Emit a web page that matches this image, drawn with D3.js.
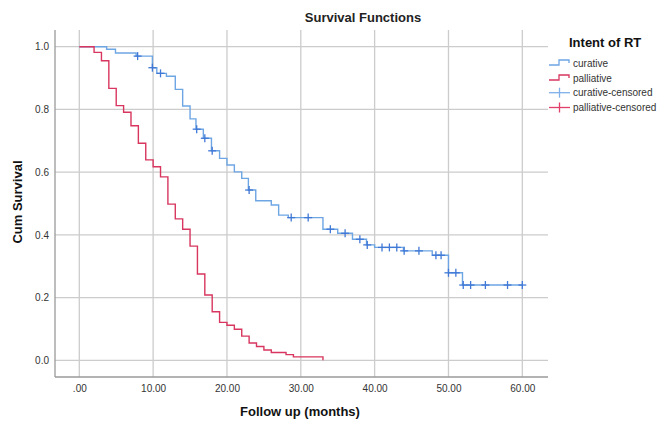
<!DOCTYPE html>
<html>
<head>
<meta charset="utf-8">
<script src="https://cdn.jsdelivr.net/npm/d3@7"></script>
<style>
  html, body { margin: 0; padding: 0; background: #fff; }
  svg { display: block; font-family: Arial, "Liberation Sans", sans-serif; }
</style>
</head>
<body>
<svg id="chart" width="666" height="421"></svg>
<script>
// ---- data ----
const xTicks = [0, 10, 20, 30, 40, 50, 60];
const xTickLabels = [".00", "10.00", "20.00", "30.00", "40.00", "50.00", "60.00"];
const yTicks = [0, 0.2, 0.4, 0.6, 0.8, 1.0];
const yTickLabels = ["0.0", "0.2", "0.4", "0.6", "0.8", "1.0"];

const curativeTimes = [0, 3.7, 4.9, 7.7, 9.9, 10.5, 11.8, 13.0, 14.0, 15.0, 15.8, 16.8, 17.9, 19.0, 20.0, 21.0, 22.0, 22.9, 23.9, 26.0, 27.0, 28.3, 33.0, 35.0, 37.0, 38.9, 40.0, 43.9, 47.8, 50.0, 51.9, 60.0];
const curativeSurv  = [1.0, 0.992, 0.980, 0.970, 0.933, 0.915, 0.906, 0.864, 0.811, 0.770, 0.737, 0.708, 0.668, 0.644, 0.623, 0.601, 0.580, 0.543, 0.509, 0.495, 0.463, 0.455, 0.418, 0.405, 0.386, 0.368, 0.360, 0.349, 0.335, 0.279, 0.240, 0.240];
const curativeCensored = [7.9, 9.9, 11.0, 15.9, 17.0, 18.0, 23.0, 28.7, 31.0, 34.0, 36.0, 38.0, 39.0, 41.0, 42.0, 43.0, 44.0, 46.0, 48.3, 49.0, 50.0, 51.0, 52.0, 53.0, 55.0, 58.0, 60.0];

const palliativeTimes = [0, 2, 3, 4, 5, 6, 7, 8, 9, 10, 11, 12, 13, 14, 15, 16, 17, 18, 19, 20, 21, 22, 23, 24, 25, 26, 28, 29, 33];
const palliativeSurv  = [1.0, 0.982, 0.955, 0.867, 0.812, 0.791, 0.748, 0.692, 0.639, 0.617, 0.585, 0.498, 0.451, 0.418, 0.364, 0.275, 0.208, 0.155, 0.121, 0.112, 0.099, 0.077, 0.055, 0.044, 0.033, 0.025, 0.018, 0.011, 0.0];
const palliativeCensored = [];

const legendLabels = ["curative", "palliative", "curative-censored", "palliative-censored"];

// ---- layout ----
const svg = d3.select("#chart");
const frame = { left: 55, right: 548, top: 30, bottom: 377 };
const x = d3.scaleLinear().domain([0, 60]).range([79.3, 522.3]);
const y = d3.scaleLinear().domain([0, 1]).range([360.3, 46.7]);

const colCur = "#6ea5e3", colCurCens = "#3f78d6";
const colPal = "#d8365f", colPalCens = "#e0406a";
const gridCol = "#cccccc", axisCol = "#9a9a9a";

// grid
svg.append("g").selectAll("line").data(xTicks).join("line")
  .attr("x1", d => x(d)).attr("x2", d => x(d))
  .attr("y1", frame.top).attr("y2", frame.bottom)
  .attr("stroke", gridCol).attr("stroke-width", 1.3);
svg.append("g").selectAll("line").data(yTicks).join("line")
  .attr("x1", frame.left).attr("x2", frame.right)
  .attr("y1", d => y(d)).attr("y2", d => y(d))
  .attr("stroke", gridCol).attr("stroke-width", 1.3);

// axes
const xAxis = d3.axisBottom(x).tickValues(xTicks).tickFormat((d, i) => xTickLabels[i]).tickSize(0).tickPadding(8);
const gx = svg.append("g").attr("transform", `translate(0,${frame.bottom})`).call(xAxis);
gx.select(".domain").remove();
gx.selectAll("text").attr("font-size", 10).attr("fill", "#333").attr("font-family", "Arial, 'Liberation Sans', sans-serif");
svg.append("line").attr("x1", frame.left).attr("x2", frame.right)
  .attr("y1", frame.bottom).attr("y2", frame.bottom).attr("stroke", axisCol).attr("stroke-width", 1.3);

const yAxis = d3.axisLeft(y).tickValues(yTicks).tickFormat((d, i) => yTickLabels[i]).tickSize(0).tickPadding(6);
const gy = svg.append("g").attr("transform", `translate(${frame.left},0)`).call(yAxis);
gy.select(".domain").remove();
gy.selectAll("text").attr("font-size", 10).attr("fill", "#333").attr("font-family", "Arial, 'Liberation Sans', sans-serif");
svg.append("line").attr("x1", frame.left).attr("x2", frame.left)
  .attr("y1", frame.top).attr("y2", frame.bottom).attr("stroke", axisCol).attr("stroke-width", 1.3);

// step lines
const line = d3.line().x(d => x(d[0])).y(d => y(d[1])).curve(d3.curveStepAfter);
function steps(times, surv) { return times.map((t, i) => [t, surv[i]]); }
function survAt(times, surv, t) {
  const i = d3.bisectRight(times, t) - 1;
  return surv[Math.max(0, i)];
}

svg.append("path").attr("d", line(steps(curativeTimes, curativeSurv)))
  .attr("fill", "none").attr("stroke", colCur).attr("stroke-width", 1.4);
svg.append("path").attr("d", line(steps(palliativeTimes, palliativeSurv)))
  .attr("fill", "none").attr("stroke", colPal).attr("stroke-width", 1.4);

function drawCensors(times, surv, cens, color) {
  const g = svg.append("g").attr("stroke", color).attr("stroke-width", 1.3);
  cens.forEach(t => {
    const cx = x(t), cy = y(survAt(times, surv, t));
    g.append("line").attr("x1", cx - 4).attr("x2", cx + 4).attr("y1", cy).attr("y2", cy);
    g.append("line").attr("x1", cx).attr("x2", cx).attr("y1", cy - 4).attr("y2", cy + 4);
  });
}
drawCensors(curativeTimes, curativeSurv, curativeCensored, colCurCens);
drawCensors(palliativeTimes, palliativeSurv, palliativeCensored, colPalCens);

// titles
svg.append("text").attr("x", 363).attr("y", 22).attr("text-anchor", "middle")
  .attr("font-size", 13).attr("font-weight", "bold").attr("fill", "#222").text("Survival Functions");
svg.append("text").attr("x", 300).attr("y", 416).attr("text-anchor", "middle")
  .attr("font-size", 13).attr("font-weight", "bold").attr("fill", "#111").text("Follow up (months)");
svg.append("text").attr("transform", "translate(22,202) rotate(-90)").attr("text-anchor", "middle")
  .attr("font-size", 13).attr("font-weight", "bold").attr("fill", "#111").text("Cum Survival");

// legend
const lg = svg.append("g");
lg.append("text").attr("x", 569).attr("y", 47).attr("font-size", 13).attr("font-weight", "bold")
  .attr("fill", "#111").text("Intent of RT");
const legendY = [63, 78, 92.7, 107.5];
const legendColors = [colCur, colPal, "#7fb0ea", colPalCens];
legendLabels.forEach((lab, i) => {
  const cy = legendY[i];
  if (i < 2) {
    lg.append("path").attr("d", `M549,${cy + 2} H559 V${cy - 3} H569 V${cy}`)
      .attr("fill", "none").attr("stroke", legendColors[i]).attr("stroke-width", 1.3);
  } else {
    lg.append("line").attr("x1", 549).attr("x2", 570).attr("y1", cy).attr("y2", cy)
      .attr("stroke", legendColors[i]).attr("stroke-width", 1.3);
    lg.append("line").attr("x1", 559.5).attr("x2", 559.5).attr("y1", cy - 5).attr("y2", cy + 5)
      .attr("stroke", legendColors[i]).attr("stroke-width", 1.3);
  }
  lg.append("text").attr("x", 573).attr("y", cy + 3.5).attr("font-size", 10)
    .attr("fill", "#333").text(lab);
});
</script>
</body>
</html>
